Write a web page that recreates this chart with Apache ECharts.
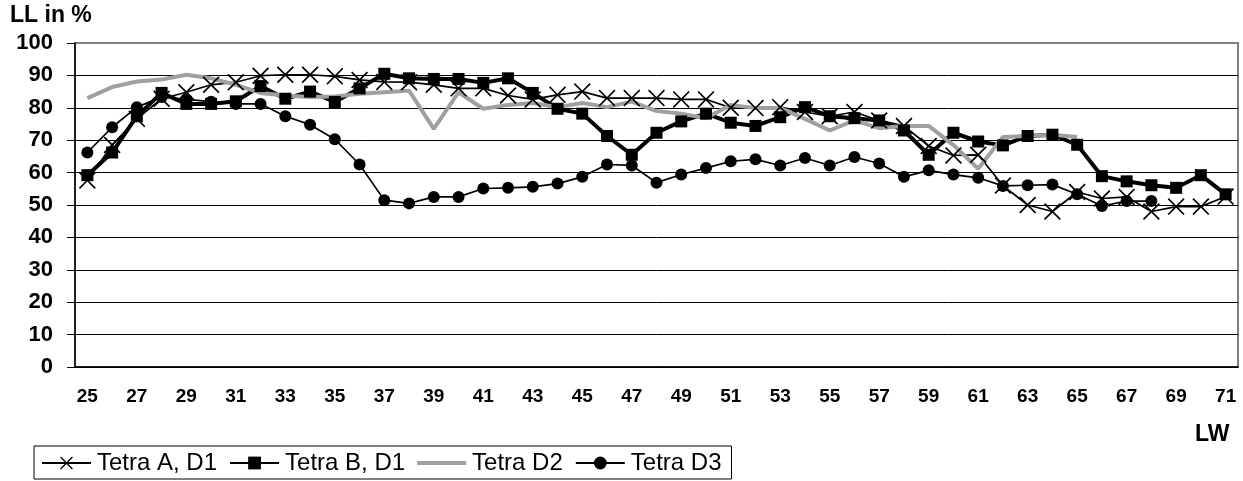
<!DOCTYPE html>
<html>
<head>
<meta charset="utf-8">
<script src="https://cdn.jsdelivr.net/npm/echarts@6/dist/echarts.min.js"></script>
<style>
  html, body { margin: 0; padding: 0; background: #fff; }
  #chart { width: 1243px; height: 481px; }
</style>
</head>
<body>
<div id="chart"></div>
<script>
// LW 25..71
const weeks = [];
for (let w = 25; w <= 71; w++) weeks.push(String(w));

const tetraA = [57.6, 68.5, 76.6, 82.8, 84.8, 87.1, 87.9, 89.9, 90.2, 90.2,
  89.7, 88.6, 88, 87.9, 87.1, 86, 86, 83.8, 82.6, 84,
  85, 83, 83, 83, 82.6, 82.6, 80, 79.9, 80.2, 78.7,
  77.4, 78.7, 76.1, 74.4, 68.2, 65.3, 65.5, 56, 50, 48,
  54, 52, 52.5, 48, 49.5, 49.5, 52.6];

const tetraB = [59.2, 66.2, 77.4, 84.6, 81.2, 81.2, 82, 86.7, 82.8, 85,
  81.8, 86, 90.5, 89.1, 88.9, 88.9, 87.7, 89.1, 84.6, 79.7,
  78.2, 71.3, 65.5, 72.3, 75.8, 78.2, 75.4, 74.4, 77.1, 80.2,
  77.4, 76.8, 76.1, 73, 65.5, 72.3, 69.6, 68.4, 71.3, 71.7,
  68.6, 58.9, 57.3, 56.1, 55.3, 59.2, 53.3];

const tetraD2 = [83, 86.4, 88.1, 88.7, 90.2, 89.1, 87.1, 84.6, 83.8, 83.3,
  83.5, 84.3, 84.8, 85.3, 73.5, 84.8, 79.7, 80.9, 81.5, 80.2,
  81.5, 80.2, 81.9, 79, 78.2, 76.8, 80.9, 79.9, 79.9, 76.6,
  73, 76.1, 73.7, 74.4, 74.4, 68.5, 61.2, 71, 71.3, 71.7,
  71, null, null, null, null, null, null];

const tetraD3 = [66.2, 74, 80.2, 83.3, 82.6, 81.9, 81.2, 81.2, 77.4, 74.8,
  70.3, 62.5, 51.5, 50.5, 52.5, 52.5, 55.1, 55.3, 55.6, 56.6,
  58.7, 62.5, 62.2, 56.9, 59.4, 61.4, 63.5, 64.1, 62.2, 64.5,
  62.2, 64.8, 62.8, 58.7, 60.7, 59.4, 58.4, 55.9, 56.1, 56.3,
  53.3, 49.7, 51.2, 51.2, null, null, null];

const FONT = '"Liberation Sans", Arial, sans-serif';
const crossSymbol = 'path://M0,1.4L1.4,0L10,8.6L18.6,0L20,1.4L11.4,10L20,18.6L18.6,20L10,11.4L1.4,20L0,18.6L8.6,10Z';

const chart = echarts.init(document.getElementById('chart'));

// grid lines black, the top one (100) gray like the frame
const splitColors = [];
for (let i = 0; i < 10; i++) splitColors.push('#000');
splitColors.push('#808080');

const option = {
  animation: false,
  backgroundColor: '#fff',
  textStyle: { fontFamily: FONT },
  grid: {
    left: 75, right: 5, top: 43, bottom: 114,
    show: true,
    borderColor: '#808080',
    borderWidth: 2
  },
  graphic: [
    {
      type: 'text', left: 10, top: 4,
      style: { text: 'LL in %', font: 'bold 23px ' + FONT, fill: '#000' }
    },
    {
      type: 'text', left: 1195, top: 423,
      style: { text: 'LW', font: 'bold 23px ' + FONT, fill: '#000' }
    }
  ],
  legend: {
    left: 34, top: 446,
    padding: [5, 10, 4, 7],
    borderColor: '#000',
    borderWidth: 1,
    itemWidth: 49,
    itemHeight: 16,
    itemGap: 12,
    selectedMode: false,
    textStyle: { fontFamily: FONT, fontSize: 24, color: '#000', padding: [0, 0, 0, 1] },
    data: [
      'Tetra A, D1',
      'Tetra B, D1',
      { name: 'Tetra D2', icon: 'path://M0,0H49V4H0Z' },
      'Tetra D3'
    ]
  },
  xAxis: {
    type: 'category',
    data: weeks,
    boundaryGap: true,
    axisLine: { lineStyle: { color: '#000', width: 1.5 } },
    axisTick: { interval: 0, length: 7, lineStyle: { color: '#000' } },
    axisLabel: {
      interval: 1, margin: 20,
      fontFamily: FONT, fontSize: 19, fontWeight: 'bold', color: '#000'
    },
    splitLine: { show: false }
  },
  yAxis: {
    type: 'value',
    min: 0, max: 100, interval: 10,
    axisLine: { show: true, lineStyle: { color: '#000', width: 1.5 } },
    axisTick: { show: true, length: 8, lineStyle: { color: '#000' } },
    axisLabel: {
      margin: 22,
      fontFamily: FONT, fontSize: 22, fontWeight: 'bold', color: '#000'
    },
    splitLine: { lineStyle: { color: splitColors, width: 1 } }
  },
  series: [
    {
      name: 'Tetra A, D1',
      type: 'line',
      data: tetraA,
      symbol: crossSymbol,
      symbolSize: 17,
      showAllSymbol: true,
      itemStyle: { color: '#000' },
      lineStyle: { color: '#000', width: 1.7 }
    },
    {
      name: 'Tetra B, D1',
      type: 'line',
      data: tetraB,
      symbol: 'rect',
      symbolSize: 12,
      showAllSymbol: true,
      itemStyle: { color: '#000' },
      lineStyle: { color: '#000', width: 4 }
    },
    {
      name: 'Tetra D2',
      type: 'line',
      data: tetraD2,
      symbol: 'none',
      itemStyle: { color: '#a0a0a0' },
      lineStyle: { color: '#a0a0a0', width: 4 }
    },
    {
      name: 'Tetra D3',
      type: 'line',
      data: tetraD3,
      symbol: 'circle',
      symbolSize: 12,
      showAllSymbol: true,
      itemStyle: { color: '#000' },
      lineStyle: { color: '#000', width: 1.7 }
    }
  ]
};

chart.setOption(option);
</script>
</body>
</html>
